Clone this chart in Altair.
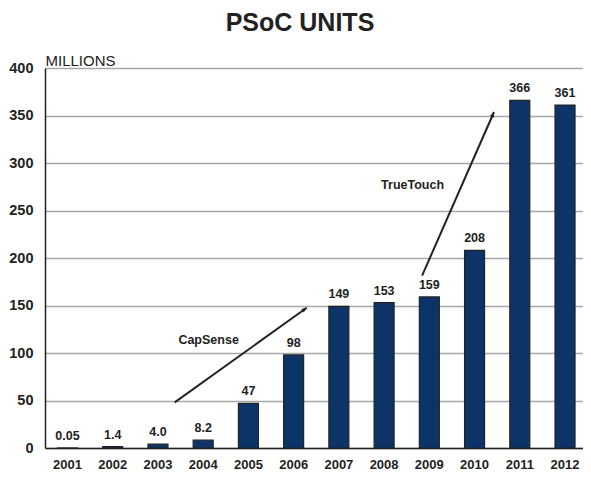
import math
import altair as alt
import pandas as pd

# ---- data ----
years = ["2001", "2002", "2003", "2004", "2005", "2006",
         "2007", "2008", "2009", "2010", "2011", "2012"]
units = [0.05, 1.4, 4.0, 8.2, 47, 98, 149, 153, 159, 208, 366, 361]
unit_labels = ["0.05", "1.4", "4.0", "8.2", "47", "98",
               "149", "153", "159", "208", "366", "361"]

arrow_names = ["CapSense", "TrueTouch"]
arrow_x0 = [2003.37, 2008.84]
arrow_y0 = [48.0, 181.4]
arrow_x1 = [2006.29, 2010.43]
arrow_y1 = [147.6, 353.7]
label_x = [2004.12, 2008.63]
label_y = [113.8, 277.1]

# ---- layout ----
W, H = 538, 380
P_INNER, P_OUTER, ALIGN = 0.558, 0.2265, 0.61
YMAX = 400
FONT = "Liberation Sans"
BAR = "#0C3468"
INK = "#222222"

n = len(years)
step = W / (n - P_INNER + 2 * P_OUTER)
start = (W - step * (n - P_INNER)) * ALIGN
first_center = start + step * (1 - P_INNER) / 2
d0 = int(years[0]) - first_center / step
d1 = d0 + W / step

bars_df = pd.DataFrame({"year": years, "units": units, "label": unit_labels})

seg_rows = []
head_rows = []
for i, name in enumerate(arrow_names):
    seg_rows.append({"name": name, "x": arrow_x0[i], "y": arrow_y0[i], "o": 0})
    seg_rows.append({"name": name, "x": arrow_x1[i], "y": arrow_y1[i], "o": 1})
    dx = (arrow_x1[i] - arrow_x0[i]) * step
    dy = (arrow_y1[i] - arrow_y0[i]) * H / YMAX
    ang = math.degrees(math.atan2(dx, dy)) % 360
    head_rows.append({"name": name, "x": arrow_x1[i], "y": arrow_y1[i], "ang": ang,
                      "lx": label_x[i], "ly": label_y[i]})
seg_df = pd.DataFrame(seg_rows)
head_df = pd.DataFrame(head_rows)

xband = alt.X("year:N", title=None,
              scale=alt.Scale(paddingInner=P_INNER, paddingOuter=P_OUTER, align=ALIGN),
              axis=alt.Axis(labelAngle=0, labelFont=FONT, labelFontSize=13,
                            labelFontWeight="bold", labelColor=INK, labelPadding=10,
                            ticks=False, domainColor=INK, domainWidth=1.5))
yq = alt.Y("units:Q", scale=alt.Scale(domain=[0, YMAX]),
           axis=alt.Axis(values=list(range(0, 401, 50)), title="MILLIONS",
                         titleAngle=0, titleX=0, titleY=-3, titleAlign="left",
                         titleBaseline="alphabetic", titleFont=FONT,
                         titleFontSize=15, titleFontWeight="normal", titleColor=INK,
                         labelFont=FONT, labelFontSize=14.5, labelFontWeight="bold",
                         labelColor=INK, labelPadding=12, ticks=False,
                         domainColor=INK, domainWidth=1.5,
                         grid=True, gridColor="#A8A8A8", gridWidth=1.5))

bars = alt.Chart(bars_df).mark_bar(color=BAR, stroke=INK, strokeWidth=1.2).encode(
    x=xband, y=yq)
vals = alt.Chart(bars_df).mark_text(font=FONT, fontSize=12.5, fontWeight="bold",
                                    color=INK, baseline="bottom", dy=-5).encode(
    x=alt.X("year:N"), y=alt.Y("units:Q"), text="label:N")
base = alt.layer(bars, vals)

xscale = alt.Scale(domain=[d0, d1], nice=False, zero=False)
yscale = alt.Scale(domain=[0, YMAX])

lines = alt.Chart(seg_df).mark_line(color=INK, strokeWidth=2).encode(
    x=alt.X("x:Q", scale=xscale, axis=None),
    y=alt.Y("y:Q", scale=yscale, axis=None),
    detail="name:N", order="o:Q")
heads = alt.Chart(head_df).mark_point(
    shape="M0,0 L0.42,1 L-0.42,1 Z", filled=True, color=INK, opacity=1, size=110
).encode(x=alt.X("x:Q", scale=xscale, axis=None),
         y=alt.Y("y:Q", scale=yscale, axis=None),
         angle=alt.Angle("ang:Q", scale=None))
labels = alt.Chart(head_df).mark_text(font=FONT, fontSize=12.5, fontWeight="bold",
                                      color=INK).encode(
    x=alt.X("lx:Q", scale=xscale, axis=None),
    y=alt.Y("ly:Q", scale=yscale, axis=None),
    text="name:N")
ann = alt.layer(lines, heads, labels)

chart = alt.layer(base, ann).resolve_scale(x="independent", y="independent").properties(
    width=W, height=H,
    autosize=alt.AutoSizeParams(type="none"),
    padding={"left": 37, "top": 60, "right": 0, "bottom": 22},
    title=alt.TitleParams("PSoC UNITS", font=FONT, fontSize=25, fontWeight="bold",
                          color=INK, anchor="middle", dx=-14, dy=-13),
).configure_view(stroke=None).configure(background="white")

chart.save("out.html", embed_options={"renderer": "svg", "actions": False})
